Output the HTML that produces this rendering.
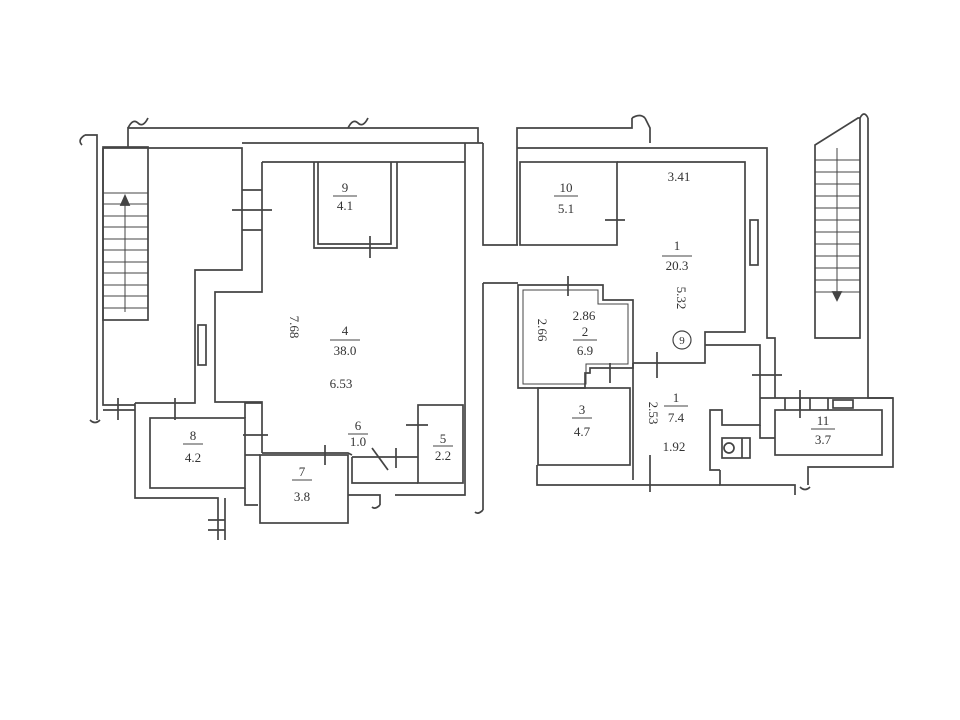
<!DOCTYPE html>
<html><head><meta charset="utf-8"><style>
html,body{margin:0;padding:0;background:#fff;}
svg{display:block}
text{font-family:"Liberation Serif",serif;font-size:13px;fill:#333;text-anchor:middle}
</style></head><body>
<svg width="960" height="720" viewBox="0 0 960 720" xmlns="http://www.w3.org/2000/svg">
<g fill="none" stroke="#444" stroke-width="1.7" stroke-linejoin="miter">
<!-- LEFT BLOCK -->
<polyline points="85,135 97,135 97,420"/>
<polyline points="103,148 103,405 135,405"/>
<polyline points="128,147 128,128 478,128 478,143"/>
<polyline points="103,148 242,148 242,270 195,270 195,403 135,403"/>
<polyline points="242,143 483,143"/>
<line x1="465" y1="143" x2="465" y2="483"/>
<polyline points="483,143 483,245 518,245"/>
<polyline points="483,283 518,283"/>
<line x1="483" y1="283" x2="483" y2="510"/>
<!-- stair left -->
<rect x="103" y="147" width="45" height="173"/>
<g stroke-width="1">
<line x1="103" y1="193" x2="148" y2="193"/><line x1="103" y1="204" x2="148" y2="204"/>
<line x1="103" y1="216" x2="148" y2="216"/><line x1="103" y1="227" x2="148" y2="227"/>
<line x1="103" y1="239" x2="148" y2="239"/><line x1="103" y1="250" x2="148" y2="250"/>
<line x1="103" y1="262" x2="148" y2="262"/><line x1="103" y1="273" x2="148" y2="273"/>
<line x1="103" y1="285" x2="148" y2="285"/><line x1="103" y1="296" x2="148" y2="296"/>
<line x1="103" y1="308" x2="148" y2="308"/>
<line x1="125" y1="312" x2="125" y2="200"/>
</g>
<polygon points="121,205 125,196 129,205" fill="#444"/>
<!-- room 4 inner -->
<polyline points="262,162 465,162"/>
<polyline points="262,162 262,292 215,292 215,402 262,402 262,453"/>
<rect x="198" y="325" width="8" height="40"/>
<line x1="232" y1="210" x2="272" y2="210"/>
<line x1="242" y1="190" x2="262" y2="190"/><line x1="242" y1="230" x2="262" y2="230"/>
<!-- room 9 -->
<polyline points="314,162 314,248 397,248 397,162"/>
<polyline points="318,162 318,244 391,244 391,162"/>
<line x1="370" y1="236" x2="370" y2="258"/>
<!-- room 8 -->
<rect x="150" y="418" width="95" height="70"/>
<polyline points="135,403 135,498 218,498 218,540"/>
<polyline points="245,418 245,403 262,403"/>
<line x1="118" y1="398" x2="118" y2="420"/><line x1="175" y1="398" x2="175" y2="420"/>
<line x1="103" y1="410" x2="135" y2="410"/>
<line x1="243" y1="435" x2="268" y2="435"/>
<polyline points="245,488 245,505 258,505"/>
<polyline points="225,498 225,540"/>
<!-- room 7 -->
<rect x="260" y="455" width="88" height="68"/>
<polyline points="245,455 260,455"/>
<polyline points="262,453 348,453 352,455"/>
<line x1="325" y1="445" x2="325" y2="465"/>
<!-- room 6 -->
<line x1="352" y1="457" x2="418" y2="457"/>
<line x1="372" y1="448" x2="388" y2="470"/>
<line x1="396" y1="448" x2="396" y2="468"/>
<polyline points="352,457 352,483 418,483"/>
<!-- room 5 -->
<rect x="418" y="405" width="45" height="78"/>
<line x1="406" y1="425" x2="428" y2="425"/>
<polyline points="348,495 380,495 380,505"/>
<polyline points="395,495 465,495 465,483"/>
<polyline points="208,520 225,520"/><polyline points="208,530 225,530"/>
<!-- breaks -->
<path d="M128,128 q5,-10 10,-5 q5,5 10,-5"/>
<path d="M348,128 q5,-10 10,-5 q5,5 10,-5"/>
<path d="M85,135 q-8,5 -3,10"/>
<path d="M90,420 q5,5 10,0"/>
<path d="M380,505 q-5,5 -8,2"/>
<path d="M483,510 q-5,5 -8,2"/>

<!-- RIGHT BLOCK -->
<polyline points="517,245 517,128 632,128 632,118"/>
<polyline points="645,118 650,128 650,143"/>
<polyline points="517,148 767,148 767,338 775,338 775,398"/>
<rect x="520" y="162" width="97" height="83"/>
<polyline points="617,162 745,162 745,332 705,332 705,363 633,363"/>
<rect x="750" y="220" width="8" height="45"/>
<line x1="605" y1="220" x2="625" y2="220"/>
<!-- room 2 -->
<polygon points="518,285 603,285 603,300 633,300 633,368 590,368 590,373 585,373 585,388 518,388"/>
<polygon points="523,290 598,290 598,304 628,304 628,364 586,364 586,384 523,384" stroke-width="1"/>
<line x1="568" y1="276" x2="568" y2="296"/>
<line x1="610" y1="363" x2="610" y2="383"/>
<!-- room 3 -->
<rect x="538" y="388" width="92" height="77"/>
<!-- room 1 (7.4) -->
<line x1="633" y1="368" x2="633" y2="480"/>
<polyline points="633,363 633,368"/>
<line x1="657" y1="352" x2="657" y2="378"/>
<polyline points="705,345 760,345 760,425 722,425 722,410 710,410 710,470 720,470"/>
<line x1="752" y1="375" x2="782" y2="375"/>
<polyline points="537,465 537,485 720,485"/>
<line x1="650" y1="455" x2="650" y2="492"/>
<polyline points="720,470 720,485 795,485 795,495"/>
<!-- room 11 -->
<rect x="775" y="410" width="107" height="45"/>
<polyline points="760,398 893,398 893,467 808,467 808,485"/>
<line x1="785" y1="398" x2="785" y2="410"/><line x1="800" y1="398" x2="800" y2="410"/>
<line x1="810" y1="398" x2="810" y2="410"/><line x1="828" y1="398" x2="828" y2="410"/>
<rect x="833" y="400" width="20" height="8"/>
<line x1="800" y1="390" x2="800" y2="418"/>
<polyline points="760,425 760,438 775,438"/>
<circle cx="729" cy="448" r="5"/>
<rect x="722" y="438" width="28" height="20"/>
<line x1="742" y1="438" x2="742" y2="458"/>
<!-- right stair -->
<polygon points="815,145 858,118 860,118 860,338 815,338"/>
<g stroke-width="1">
<line x1="815" y1="160" x2="860" y2="160"/><line x1="815" y1="172" x2="860" y2="172"/>
<line x1="815" y1="184" x2="860" y2="184"/><line x1="815" y1="196" x2="860" y2="196"/>
<line x1="815" y1="208" x2="860" y2="208"/><line x1="815" y1="220" x2="860" y2="220"/>
<line x1="815" y1="232" x2="860" y2="232"/><line x1="815" y1="244" x2="860" y2="244"/>
<line x1="815" y1="256" x2="860" y2="256"/><line x1="815" y1="268" x2="860" y2="268"/>
<line x1="815" y1="280" x2="860" y2="280"/><line x1="815" y1="292" x2="860" y2="292"/>
<line x1="837" y1="148" x2="837" y2="295"/>
</g>
<polygon points="833,292 837,300 841,292" fill="#444"/>
<polyline points="868,118 868,398 893,398"/>
<path d="M860,118 q4,-8 8,0"/>
<path d="M632,118 q8,-5 13,0"/>
<path d="M800,487 q5,5 10,0"/>
</g>
<!-- labels -->
<g>
<text x="345" y="192">9</text><line x1="333" y1="196" x2="357" y2="196" stroke="#444"/><text x="345" y="210">4.1</text>
<text x="345" y="335">4</text><line x1="330" y1="340" x2="360" y2="340" stroke="#444"/><text x="345" y="355">38.0</text>
<text x="341" y="388">6.53</text>
<text x="290" y="327" transform="rotate(90 290 327)">7.68</text>
<text x="193" y="440">8</text><line x1="183" y1="444" x2="203" y2="444" stroke="#444"/><text x="193" y="462">4.2</text>
<text x="302" y="476">7</text><line x1="292" y1="480" x2="312" y2="480" stroke="#444"/><text x="302" y="501">3.8</text>
<text x="358" y="430">6</text><line x1="348" y1="434" x2="368" y2="434" stroke="#444"/><text x="358" y="446">1.0</text>
<text x="443" y="443">5</text><line x1="433" y1="446" x2="453" y2="446" stroke="#444"/><text x="443" y="460">2.2</text>
<text x="566" y="192">10</text><line x1="554" y1="196" x2="578" y2="196" stroke="#444"/><text x="566" y="213">5.1</text>
<text x="679" y="181">3.41</text>
<text x="677" y="250">1</text><line x1="662" y1="256" x2="692" y2="256" stroke="#444"/><text x="677" y="270">20.3</text>
<text x="677" y="298" transform="rotate(90 677 298)">5.32</text>
<circle cx="682" cy="340" r="9" fill="none" stroke="#444" stroke-width="1.2"/><text x="682" y="344" style="font-size:11px">9</text>
<text x="584" y="320">2.86</text>
<text x="585" y="336">2</text><line x1="573" y1="340" x2="597" y2="340" stroke="#444"/><text x="585" y="355">6.9</text>
<text x="538" y="330" transform="rotate(90 538 330)">2.66</text>
<text x="582" y="414">3</text><line x1="572" y1="418" x2="592" y2="418" stroke="#444"/><text x="582" y="436">4.7</text>
<text x="676" y="402">1</text><line x1="664" y1="406" x2="688" y2="406" stroke="#444"/><text x="676" y="422">7.4</text>
<text x="649" y="413" transform="rotate(90 649 413)">2.53</text>
<text x="674" y="451">1.92</text>
<text x="823" y="425">11</text><line x1="811" y1="429" x2="835" y2="429" stroke="#444"/><text x="823" y="444">3.7</text>
</g>
</svg>
</body></html>
